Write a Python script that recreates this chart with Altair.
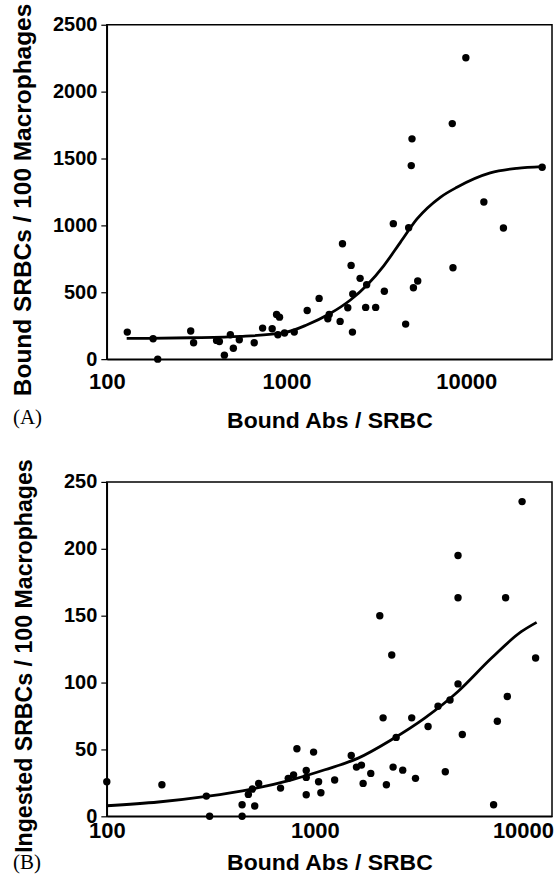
import altair as alt
import pandas as pd

# ---------------- Panel A data ----------------
a_x = [130, 181, 192, 293, 304, 408, 423, 487, 451, 506, 546, 661, 736, 832, 880,
       914, 895, 975, 1104, 1303, 1518, 1697, 1727, 1987, 2048, 2287, 2192, 2336,
       2327, 2566, 2756, 2792, 3133, 3501, 3928, 4600, 4782, 5081, 5370, 8435,
       12530, 16100, 9950, 4990, 8360, 4943, 26440]
a_y = [202, 152, 0, 210, 122, 140, 132, 182, 30, 82, 145, 122, 232, 227, 334,
       314, 182, 195, 202, 364, 454, 302, 334, 282, 863, 701, 384, 487,
       202, 604, 387, 556, 387, 507, 1013, 262, 983, 534, 584, 683,
       1175, 980, 2253, 1647, 1761, 1447, 1435]
a_curve_x = [129, 293, 555, 987, 1303, 1727, 2267, 2808, 3473, 4299, 5321, 7171,
             8878, 13600, 19140, 26440]
a_curve_y = [155, 160, 170, 200, 257, 337, 442, 554, 698, 873, 1048, 1210,
             1285, 1392, 1427, 1440]

# ---------------- Panel B data ----------------
b_x = [100, 184, 301, 312, 447, 447, 479, 501, 514, 537, 684, 745, 790, 820, 909,
       909, 909, 986, 1042, 1069, 1245, 1496, 1585, 1675, 1706, 1857, 2052, 2128,
       2207, 2342, 2377, 2459, 2645, 2921, 3046, 3501, 3909, 4237, 4464, 4877,
       5114, 7230, 7535, 8414, 11510, 9910, 4877, 4877, 8259]
b_y = [25.8, 23.6, 15.1, 0, 8.7, 0, 16.4, 20.4, 7.7, 24.6, 21.1, 28.4, 31, 50.5, 34.3,
       29.1, 16.1, 48, 25.8, 17.6, 27.1, 45.5, 36.8, 38.3, 24.6, 32.1, 150, 73.6,
       23.6, 120.6, 36.8, 59, 34.5, 73.6, 28.4, 67.2, 82.3, 33.3, 87, 99,
       61.2, 8.7, 71.1, 89.6, 118.4, 235.3, 195, 163.4, 163.4]
b_curve_x = [100, 177, 301, 497, 773, 1117, 1616, 2333, 3373, 4877, 7047, 9817, 11640]
b_curve_y = [7.9, 10.7, 14.9, 20.4, 27.3, 34.8, 43.5, 57.2, 73.4, 93.3, 118.1, 138, 145]

x_ticks = [100, 1000, 10000]
a_y_ticks = [0, 500, 1000, 1500, 2000, 2500]
b_y_ticks = [0, 50, 100, 150, 200, 250]

x_title = "Bound Abs / SRBC"
a_y_title = "Bound SRBCs / 100 Macrophages"
b_y_title = "Ingested SRBCs / 100 Macrophages"

FONT = "Liberation Sans"
SERIF = "Liberation Serif"


def panel(px, py, cx, cy, xdom, ydom, yticks, ytitle, label,
          xlabpad, xtitley, ytitlex, ytitley, ytitlesize, labx, laby):
    pts = pd.DataFrame({"x": px, "y": py})
    crv = pd.DataFrame({"x": cx, "y": cy})
    lab = pd.DataFrame({"t": [label]})

    xscale = alt.Scale(type="log", domain=xdom, nice=False)
    yscale = alt.Scale(domain=ydom, nice=False, zero=False)

    xaxis = alt.Axis(values=x_ticks, format="d", title=x_title, grid=False,
                     ticks=False, tickSize=0, labelPadding=xlabpad,
                     labelBaseline="alphabetic", labelFont=FONT, labelFontSize=22,
                     labelFontWeight="bold", labelColor="black", labelFlush=False,
                     labelOverlap=False, titleFont=FONT, titleFontSize=23,
                     titleFontWeight="bold", titleColor="black",
                     titleBaseline="alphabetic", titleY=xtitley,
                     domainColor="black", domainWidth=1.5)
    yaxis = alt.Axis(values=yticks, format="d", title=ytitle, grid=False,
                     tickSize=6, tickColor="black", tickWidth=1.2, labelPadding=4,
                     labelFont=FONT, labelFontSize=20, labelFontWeight="bold",
                     labelColor="black", labelFlush=False, labelOverlap=False,
                     titleFont=FONT, titleFontSize=ytitlesize, titleFontWeight="bold",
                     titleColor="black", titleAngle=270, titleBaseline="alphabetic",
                     titleAlign="center", titleX=ytitlex, titleY=ytitley,
                     domainColor="black", domainWidth=1.5)

    p = alt.Chart(pts).mark_circle(size=55, color="black", opacity=1).encode(
        x=alt.X("x:Q", scale=xscale, axis=xaxis),
        y=alt.Y("y:Q", scale=yscale, axis=yaxis),
    )
    l = alt.Chart(crv).mark_line(color="black", strokeWidth=2.8,
                                 interpolate="monotone").encode(
        x=alt.X("x:Q", scale=xscale),
        y=alt.Y("y:Q", scale=yscale),
    )
    t = alt.Chart(lab).mark_text(font=SERIF, fontSize=21, align="left",
                                 baseline="alphabetic", color="black").encode(
        x=alt.value(labx), y=alt.value(laby), text="t:N")
    return alt.layer(l, p, t).properties(width=446, height=335)


pa = panel(a_x, a_y, a_curve_x, a_curve_y, [100, 30000], [0, 2500], a_y_ticks,
           a_y_title, "(A)", xlabpad=29, xtitley=68, ytitlex=-76.5, ytitley=175,
           ytitlesize=24.5, labx=-94, laby=400)
pb = panel(b_x, b_y, b_curve_x, b_curve_y, [100, 13800], [0, 250], b_y_ticks,
           b_y_title, "(B)", xlabpad=21, xtitley=53, ytitlex=-75.5, ytitley=174,
           ytitlesize=23.2, labx=-94, laby=388)

chart = alt.vconcat(pa, pb, spacing=25).properties(
    padding={"left": 9, "top": 1, "right": 0, "bottom": 0},
    background="white",
).configure_view(stroke="black", strokeWidth=1.5)

chart.save("out.html", embed_options={"renderer": "svg", "actions": False})
